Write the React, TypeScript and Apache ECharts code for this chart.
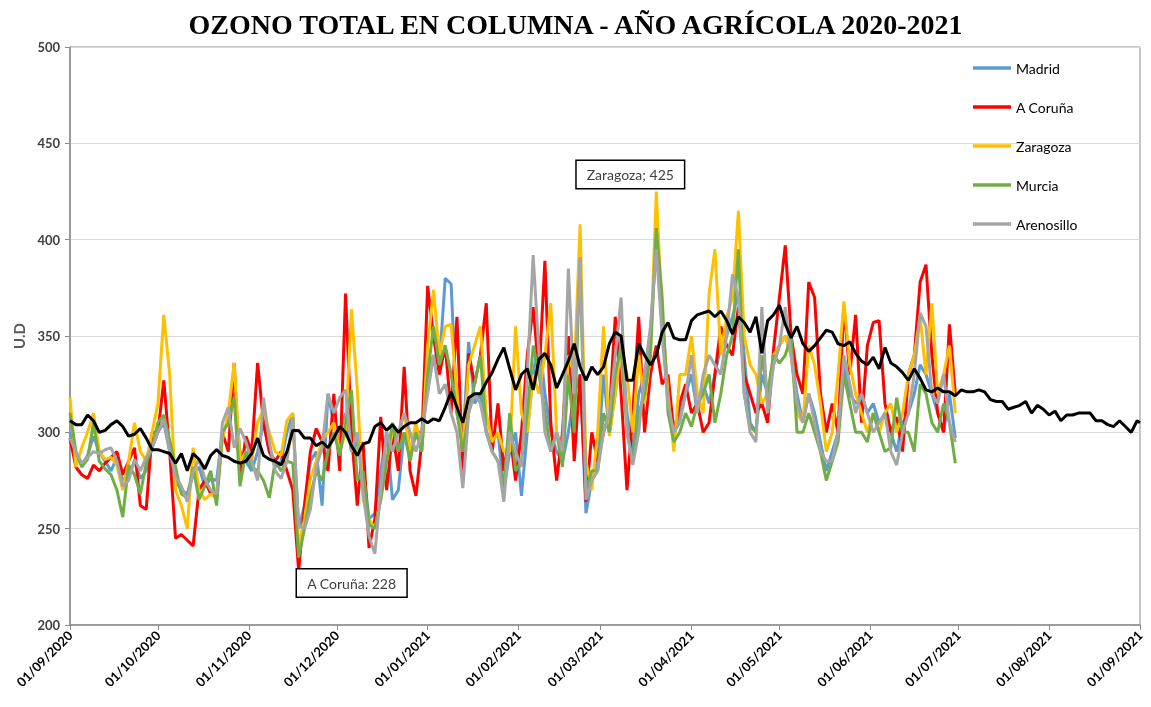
import React, { useEffect, useRef } from "react";
import * as echarts from "echarts";

const START = Date.UTC(2020, 8, 1);
const N_DAYS = 366;
const STEP = 2; // one value every two days

const MONTH_TICKS = [
  "01/09/2020", "01/10/2020", "01/11/2020", "01/12/2020", "01/01/2021", "01/02/2021",
  "01/03/2021", "01/04/2021", "01/05/2021", "01/06/2021", "01/07/2021", "01/08/2021", "01/09/2021",
];
const Y_MIN = 200;
const Y_MAX = 500;
const Y_STEP = 50;

const STATIONS = ["Madrid", "A Coruña", "Zaragoza", "Murcia", "Arenosillo"];
const COLORS = ["#5B9BD5", "#FF0000", "#FFC000", "#70AD47", "#A5A5A5"];

const MADRID = [
  300, 290, 283, 288, 298, 290, 285, 280, 287, 275, 278, 285, 276, 280, 292,
  300, 305, 290, 275, 270, 268, 278, 282, 272, 276, 275, 300, 305, 320, 290,
  285, 280, 290, 305, 290, 282, 285, 300, 310, 250, 262, 285, 290, 262, 320,
  305, 300, 310, 290, 295, 282, 255, 258, 280, 300, 265, 270, 300, 290, 300,
  300, 330, 340, 335, 380, 377, 310, 295, 347, 315, 320, 300, 295, 300, 270,
  290, 300, 267, 300, 330, 350, 320, 300, 290, 285, 300, 320, 330, 258, 275,
  285, 330, 300, 320, 350, 310, 290, 320, 330, 350, 400, 360, 320, 300, 310,
  320, 330, 310, 325, 315, 330, 345, 350, 360, 372, 340, 305, 300, 330, 320,
  335, 345, 350, 340, 320, 305, 320, 310, 295, 280, 290, 300, 335, 320, 315,
  320, 310, 315, 305, 310, 300, 290, 305, 310, 320, 335, 330, 320, 310, 300,
  320, 297,
];
const CORUNA = [
  297, 282, 278, 276, 283, 280, 284, 287, 290, 278, 285, 292, 262, 260, 300,
  300, 327, 290, 245, 247, 244, 241, 270, 275, 268, 266, 300, 290, 336, 275,
  298, 290, 336, 305, 290, 285, 290, 280, 270, 228, 262, 290, 302, 295, 280,
  320, 280, 372, 300, 262, 295, 240, 255, 308, 270, 300, 280, 334, 280, 267,
  295, 376, 350, 330, 345, 310, 360, 279, 341, 325, 340, 367, 290, 315, 280,
  300, 275, 300, 340, 365, 330, 389, 305, 275, 300, 350, 285, 330, 264, 300,
  285, 300, 310, 360, 320, 270, 310, 360, 300, 330, 345, 325, 330, 300, 315,
  325, 310, 315, 300, 305, 330, 355, 345, 340, 365, 330, 320, 310, 315, 305,
  343, 370, 397, 350, 330, 320, 378, 370, 320, 300, 315, 300, 366, 330, 361,
  305, 345, 357, 358, 315, 300, 308, 290, 330, 340, 378, 387, 340, 310, 300,
  356, 320,
];
const ZARAGOZA = [
  318, 282, 292, 300, 310, 290, 286, 287, 283, 270, 285, 305, 290, 285, 300,
  315, 361, 330, 270, 262, 250, 292, 270, 265, 268, 266, 296, 310, 336, 285,
  290, 285, 305, 312, 300, 290, 288, 306, 310, 240, 255, 276, 285, 296, 300,
  305, 290, 300, 364, 322, 265, 255, 250, 265, 285, 300, 300, 310, 290, 305,
  290, 345, 374, 340, 355, 356, 320, 290, 335, 345, 355, 310, 295, 300, 290,
  290, 355, 310, 300, 330, 320, 340, 367, 300, 290, 340, 330, 408, 285, 270,
  300, 355, 298, 320, 345, 330, 300, 340, 315, 340, 425, 360, 320, 290, 330,
  330, 350, 320, 310, 372, 395, 340, 360, 370, 415, 350, 335, 330, 315, 320,
  340, 345, 350, 340, 310, 305, 345, 335, 315, 290, 300, 330, 368, 335, 320,
  310, 300, 310, 300, 310, 315, 300, 310, 330, 340, 360, 330, 367, 320, 330,
  345, 310,
];
const MURCIA = [
  310, 290, 282, 286, 305, 285, 281, 278, 270, 256, 283, 278, 268, 284, 292,
  305, 309, 296, 282, 268, 266, 282, 265, 272, 280, 262, 300, 305, 318, 272,
  290, 282, 280, 275, 266, 285, 280, 285, 284, 235, 250, 267, 280, 275, 290,
  300, 288, 305, 322, 275, 280, 252, 250, 265, 285, 305, 290, 300, 285, 300,
  290, 330, 355, 335, 345, 330, 310, 290, 310, 325, 340, 300, 290, 285, 272,
  310, 280, 285, 310, 345, 330, 310, 290, 300, 282, 330, 300, 390, 270, 280,
  280, 310, 300, 330, 345, 300, 285, 310, 320, 340, 406, 370, 310, 295, 300,
  310, 303, 315, 320, 330, 305, 320, 340, 350, 395, 320, 303, 300, 340, 320,
  340, 336, 340, 350, 300, 300, 310, 300, 290, 275, 285, 295, 330, 315, 300,
  300, 295, 310, 300, 290, 292, 318, 300, 300, 290, 325, 320, 305, 300, 315,
  305, 284,
];
const ARENOSILLO = [
  297, 290, 284, 287, 290, 289, 291, 292, 285, 272, 275, 286, 280, 287, 292,
  300, 307, 290, 277, 272, 264, 280, 286, 276, 270, 268, 305, 313, 292, 302,
  295, 285, 275, 318, 295, 280, 276, 285, 308, 252, 250, 260, 282, 292, 320,
  310, 318, 322, 290, 300, 268, 246, 237, 270, 300, 290, 300, 310, 300, 290,
  300, 320, 340, 320, 325, 310, 300, 271, 310, 320, 315, 300, 290, 285, 264,
  300, 290, 282, 330, 392, 340, 300, 290, 300, 290, 385, 320, 391, 265, 275,
  280, 300, 310, 340, 370, 300, 283, 300, 330, 355, 395, 350, 315, 300, 305,
  320, 340, 310, 330, 340, 335, 330, 350, 382, 370, 320, 300, 295, 365, 310,
  335, 345, 365, 340, 315, 305, 320, 305, 290, 285, 285, 300, 340, 325, 310,
  320, 310, 300, 305, 310, 290, 283, 300, 310, 330, 362, 355, 320, 315, 330,
  305, 295,
];
const MEAN = [
  306, 304, 304, 309, 306, 300, 301, 304, 306, 303, 298, 299, 302, 297, 291,
  291, 290, 289, 284, 289, 280, 289, 286, 281, 288, 291, 288, 287, 285, 284,
  285, 289, 297, 288, 286, 285, 283, 290, 301, 301, 297, 297, 293, 295, 292,
  297, 303, 300, 293, 288, 294, 295, 303, 305, 301, 304, 300, 303, 305, 305,
  307, 305, 307, 306, 313, 321, 313, 305, 318, 320, 320, 326, 331, 338, 344,
  333, 322, 330, 333, 322, 338, 341, 335, 323, 330, 337, 346, 334, 327, 334,
  330, 334, 346, 352, 350, 327, 327, 346, 340, 335, 340, 352, 357, 349, 348,
  348, 358, 361, 362, 363, 360, 363, 358, 351, 360, 357, 352, 360, 341, 358,
  361, 366, 356, 349, 355, 346, 342, 345, 349, 353, 352, 346, 345, 347, 341,
  337, 335, 339, 333, 344, 336, 334, 331, 327, 333, 328, 322, 321, 323, 321,
  321, 319, 322, 321, 321, 322, 321, 317, 316, 316, 312, 313, 314, 316, 310,
  314, 312, 309, 311, 306, 309, 309, 310, 310, 310, 306, 306, 304, 303, 306,
  303, 300, 306, 305,
];

const STATION_DATA = [MADRID, CORUNA, ZARAGOZA, MURCIA, ARENOSILLO];

function fmt(d: Date) {
  const dd = String(d.getUTCDate()).padStart(2, "0");
  const mm = String(d.getUTCMonth() + 1).padStart(2, "0");
  return `${dd}/${mm}/${d.getUTCFullYear()}`;
}
const CATEGORIES = Array.from({ length: N_DAYS }, (_, k) => fmt(new Date(START + k * 86400000)));

function toPairs(arr: number[]) {
  return arr.map((v, i) => [Math.min(i * STEP, N_DAYS - 1), v]);
}
function argExt(arr: number[], max: boolean) {
  let best = 0;
  arr.forEach((v, i) => {
    if (max ? v > arr[best] : v < arr[best]) best = i;
  });
  return best;
}

const FONT = "Lato, 'Open Sans', sans-serif";

export default function App() {
  const ref = useRef<HTMLDivElement>(null);
  useEffect(() => {
    document.body.style.margin = "0";
    const chart = echarts.init(ref.current!, undefined, { renderer: "svg" });
    const zi = argExt(ZARAGOZA, true);
    const ci = argExt(CORUNA, false);
    const boxLabel = {
      show: true,
      position: "inside",
      backgroundColor: "#fff",
      borderColor: "#000",
      borderWidth: 1.5,
      padding: [7, 10, 6, 10],
      color: "#404040",
      fontSize: 14,
      fontFamily: FONT,
    };
    const isTick = (_: number, v: string) => MONTH_TICKS.includes(v);
    const series: any[] = STATIONS.map((name, k) => ({
      name,
      type: "line",
      data: toPairs(STATION_DATA[k]),
      symbol: "none",
      lineStyle: { width: 3, color: COLORS[k] },
      itemStyle: { color: COLORS[k] },
      z: 2 + k,
    }));
    series[2].markPoint = {
      symbol: "circle",
      symbolSize: 1,
      itemStyle: { color: "rgba(0,0,0,0)" },
      data: [
        {
          coord: [zi * STEP, ZARAGOZA[zi]],
          label: { ...boxLabel, offset: [-26, -17], formatter: `Zaragoza; ${ZARAGOZA[zi]}` },
        },
      ],
    };
    series[1].markPoint = {
      symbol: "circle",
      symbolSize: 1,
      itemStyle: { color: "rgba(0,0,0,0)" },
      data: [
        {
          coord: [ci * STEP, CORUNA[ci]],
          label: { ...boxLabel, offset: [53, 12], formatter: `A Coruña: ${CORUNA[ci]}` },
        },
      ],
    };
    series.push({
      name: "Media",
      type: "line",
      data: toPairs(MEAN),
      symbol: "none",
      lineStyle: { width: 3, color: "#000" },
      itemStyle: { color: "#000" },
      z: 10,
    });

    chart.setOption({
      animation: false,
      title: {
        text: "OZONO TOTAL EN COLUMNA - AÑO AGRÍCOLA 2020-2021",
        left: "center",
        top: 5,
        textStyle: { fontFamily: "'Liberation Serif', serif", fontSize: 28, fontWeight: "bold", color: "#000" },
      },
      legend: {
        data: STATIONS,
        orient: "vertical",
        left: 968,
        top: 56,
        icon: "rect",
        itemWidth: 38,
        itemHeight: 3.5,
        itemGap: 25,
        textStyle: { fontFamily: FONT, fontSize: 14, color: "#000" },
      },
      grid: {
        left: 70,
        right: 11,
        top: 47,
        bottom: 82,
        show: true,
        borderColor: "#8c8c8c",
        borderWidth: 1,
      },
      xAxis: {
        type: "category",
        data: CATEGORIES,
        boundaryGap: false,
        axisLine: { lineStyle: { color: "#8c8c8c", width: 1.5 } },
        axisTick: { interval: isTick, length: 5, lineStyle: { color: "#8c8c8c" } },
        axisLabel: {
          interval: isTick,
          rotate: 45,
          fontFamily: FONT,
          fontWeight: "bold",
          fontSize: 13,
          color: "#000",
          margin: 8,
        },
        splitLine: { show: false },
      },
      yAxis: {
        type: "value",
        min: Y_MIN,
        max: Y_MAX,
        interval: Y_STEP,
        name: "U.D",
        nameLocation: "middle",
        nameGap: 43,
        nameRotate: 90,
        nameTextStyle: { fontFamily: FONT, fontWeight: "bold", fontSize: 15, color: "#595959" },
        axisLine: { show: true, lineStyle: { color: "#8c8c8c", width: 1.5 } },
        axisTick: { show: true, length: 5, lineStyle: { color: "#8c8c8c" } },
        axisLabel: { fontFamily: FONT, fontWeight: "bold", fontSize: 13, color: "#404040", margin: 10 },
        splitLine: { lineStyle: { color: "#D9D9D9", width: 1 } },
      },
      series,
    });
    return () => chart.dispose();
  }, []);
  return <div ref={ref} style={{ position: "fixed", left: 0, top: 0, width: 1151, height: 707 }} />;
}
